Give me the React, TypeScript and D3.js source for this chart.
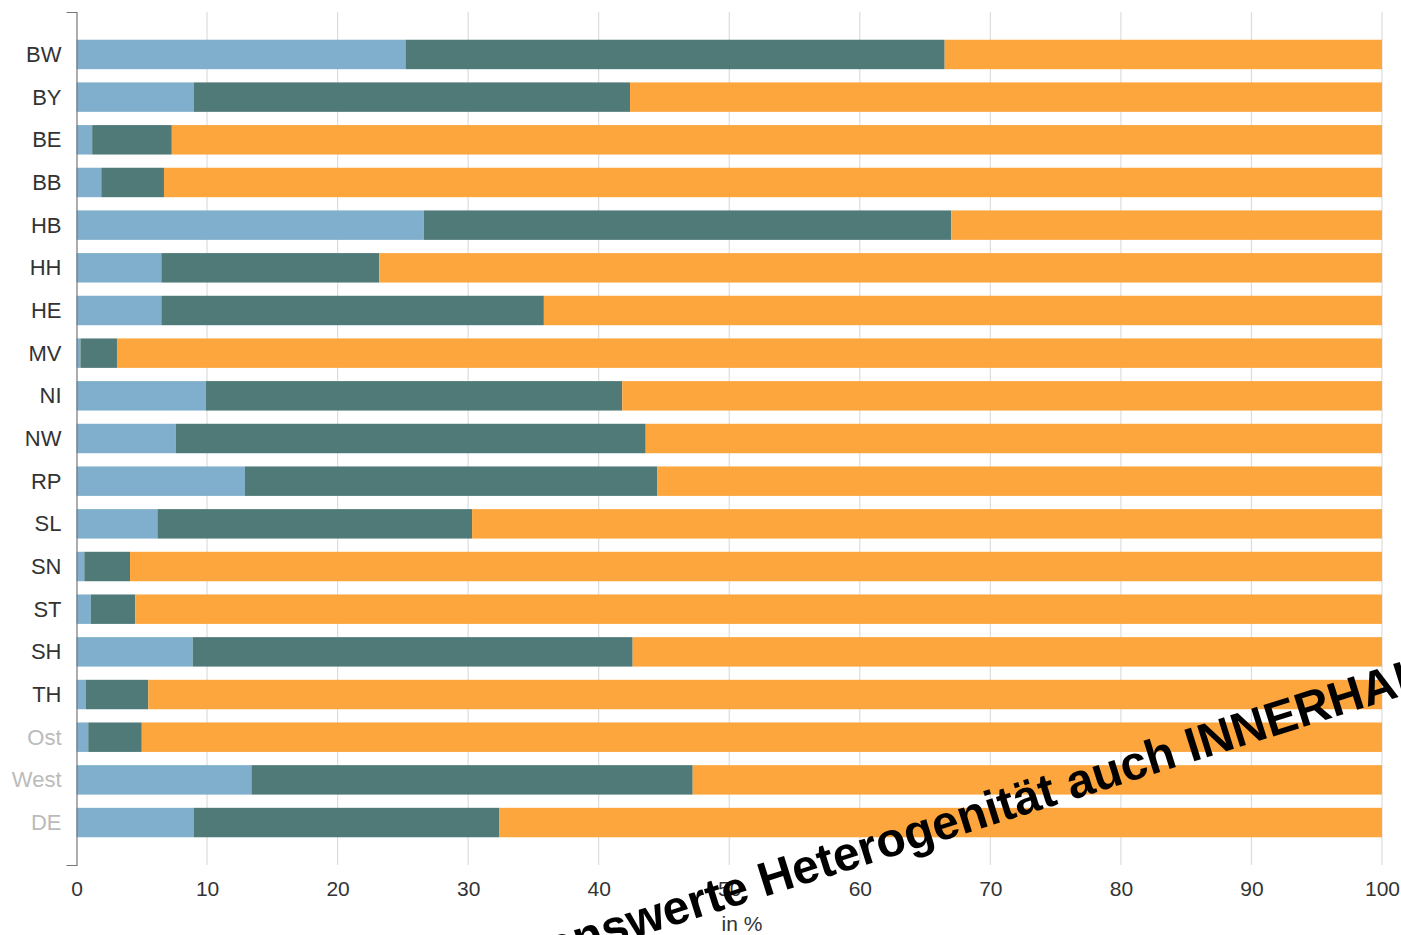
import React, { useEffect, useRef } from "react";
import * as d3 from "d3";

const categories = ["BW", "BY", "BE", "BB", "HB", "HH", "HE", "MV", "NI", "NW", "RP", "SL", "SN", "ST", "SH", "TH", "Ost", "West", "DE"];
const greyCategories = ["Ost", "West", "DE"];
const seriesKeys = ["s1", "s2", "s3"];
const seriesColors = ["#7fafcc", "#507a78", "#fda63d"];
const series1 = [25.2, 9.0, 1.2, 1.9, 26.6, 6.5, 6.5, 0.3, 9.9, 7.6, 12.9, 6.2, 0.6, 1.1, 8.9, 0.7, 0.9, 13.4, 9.0];
const series2 = [41.3, 33.4, 6.1, 4.8, 40.4, 16.7, 29.3, 2.8, 31.9, 36.0, 31.6, 24.1, 3.5, 3.4, 33.7, 4.8, 4.1, 33.8, 23.4];
const series3 = [33.5, 57.6, 92.7, 93.3, 33.0, 76.8, 64.2, 96.9, 58.2, 56.4, 55.5, 69.7, 95.9, 95.5, 57.4, 94.5, 95.0, 52.8, 67.6];
const xTicks = [0, 10, 20, 30, 40, 50, 60, 70, 80, 90, 100];
const xLabel = "in %";
const overlayLead = "Bemerkenswerte";
const overlayRest = "Heterogenität auch INNERHALB der Länder";

const W = 1401;
const H = 935;
const FONT = "'Liberation Sans', Arial, Helvetica, sans-serif";

export default function App() {
  const yAxisRef = useRef<SVGGElement>(null);
  const xAxisRef = useRef<SVGGElement>(null);

  const x = d3.scaleLinear().domain([0, 100]).range([76.5, 1382]);
  const y = d3.scaleBand<string>().domain(categories).range([12, 865]).paddingInner(0.31).paddingOuter(0.65);

  const table = categories.map((c, i) => ({ cat: c, s1: series1[i], s2: series2[i], s3: series3[i] }));
  const stacked = d3.stack<any>().keys(seriesKeys)(table);

  useEffect(() => {
    if (yAxisRef.current) {
      const g = d3.select(yAxisRef.current);
      g.call(d3.axisLeft(y).tickSize(0).tickSizeOuter(10).tickPadding(15) as any);
      g.select(".domain").attr("stroke", "#777").attr("stroke-width", 1.2);
      g.selectAll("text")
        .attr("font-size", 22)
        .attr("font-family", FONT)
        .attr("dy", "0.34em")
        .attr("fill", (d: any) => (greyCategories.includes(d) ? "#bbbbbb" : "#333333"));
    }
    if (xAxisRef.current) {
      const g = d3.select(xAxisRef.current);
      g.call(d3.axisBottom(x).tickValues(xTicks).tickFormat(d3.format("d") as any).tickSize(0).tickPadding(16) as any);
      g.select(".domain").remove();
      g.selectAll("text").attr("font-size", 21).attr("font-family", FONT).attr("fill", "#333333");
    }
  });

  return (
    <svg width={W} height={H} style={{ position: "absolute", left: 0, top: 0, background: "#fff" }} fontFamily={FONT}>
      <g>
        {xTicks.filter((t) => t > 0).map((t) => (
          <line key={t} x1={x(t)} x2={x(t)} y1={12} y2={865} stroke="#dddddd" strokeWidth={1.2} />
        ))}
      </g>
      {stacked.map((layer, li) => (
        <g key={layer.key} fill={seriesColors[li]}>
          {layer.map((d: any) => (
            <rect key={d.data.cat} x={x(d[0])} y={y(d.data.cat)} width={x(d[1]) - x(d[0])} height={y.bandwidth()} />
          ))}
        </g>
      ))}
      <g ref={yAxisRef} transform={`translate(${x(0)},0)`} />
      <g ref={xAxisRef} transform={`translate(0,865)`} />
      <text x={742} y={931} textAnchor="middle" fontSize={21} fill="#333333">
        {xLabel}
      </text>
      <g transform="translate(764,897) rotate(-17.5)" fontWeight="bold" fontSize={48} fill="#000">
        <text x={-13} textAnchor="end">{overlayLead}</text>
        <text x={0} textAnchor="start">{overlayRest}</text>
      </g>
    </svg>
  );
}
